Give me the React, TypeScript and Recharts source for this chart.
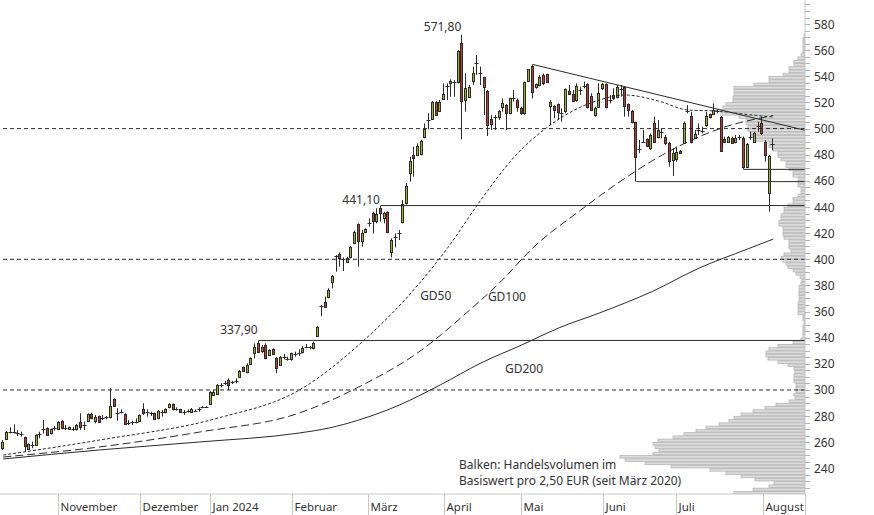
import React from 'react';
import { ComposedChart, BarChart, Bar, Line, XAxis, YAxis, ReferenceLine, ReferenceDot } from 'recharts';

const W = 874;
const H = 515;
const PLOT_R = 805;
const PLOT_B = 494;
const Y_DOMAIN: [number, number] = [220.4, 598.4];
const X_DOMAIN: [number, number] = [-0.89, 216.56];
const FONT = "'Noto Sans', sans-serif";
const GREEN = '#9bb426';
const RED = '#c23a2c';
const INK = '#2a2a2a';

// ---- daily candles ----
const openP = [
  255.4, 262.3, 267.6, 268.4, 267.0, 266.5, 263.8, 255.1, 257.5, 257.9,
  265.9, 269.5, 270.7, 266.8, 270.5, 270.4, 276.3, 270.5, 269.9, 270.2,
  269.9, 275.5, 273.0, 276.3, 281.9, 276.5, 280.1, 278.0, 278.9, 279.1,
  293.1, 282.5, 283.2, 281.6, 274.8, 275.0, 275.6, 276.5, 285.5, 283.2,
  282.3, 282.1, 278.3, 282.7, 283.2, 286.7, 289.3, 285.3, 285.2, 283.2,
  284.0, 282.9, 284.0, 285.0, 287.0, 287.2, 289.0, 296.2, 296.9, 303.6,
  305.4, 307.7, 305.8, 306.9, 310.2, 317.3, 314.0, 319.6, 328.1, 336.2,
  330.1, 334.4, 326.8, 331.1, 324.2, 319.1, 324.8, 323.3, 323.5, 327.1,
  327.9, 329.3, 333.0, 332.4, 331.9, 341.6, 364.0, 367.1, 371.4, 382.9,
  402.2, 403.8, 399.8, 398.2, 401.5, 412.2, 427.0, 414.0, 420.9, 427.3,
  435.7, 429.5, 439.5, 431.3, 436.4, 405.8, 417.1, 419.6, 428.2, 442.8,
  465.8, 479.8, 479.8, 480.3, 493.3, 506.4, 507.1, 520.6, 513.7, 522.6,
  532.4, 534.6, 535.2, 535.9, 565.2, 521.9, 524.4, 536.6, 549.7, 542.0,
  539.2, 528.7, 507.1, 508.4, 508.6, 516.2, 518.0, 512.2, 522.9, 521.9,
  515.7, 512.2, 536.4, 547.9, 531.5, 533.3, 541.0, 541.5, 517.3, 517.3,
  518.8, 511.5, 513.4, 528.7, 526.4, 521.9, 529.3, 532.4, 534.1, 524.9,
  510.4, 516.8, 530.8, 533.8, 521.6, 525.7, 524.4, 530.1, 531.5, 518.8,
  513.7, 505.3, 484.2, 490.0, 491.8, 484.9, 504.0, 493.8, 497.4, 493.8,
  488.7, 476.0, 476.5, 483.1, 489.2, 513.2, 509.6, 493.1, 498.7, 497.8,
  502.7, 510.9, 510.9, 513.5, 509.1, 492.0, 490.0, 492.5, 489.5, 493.6,
  493.0, 470.9, 493.6, 490.0, 501.8, 504.0, 490.0, 450.5, 488.0,
];
const highP = [
  261.7, 268.6, 271.4, 273.7, 269.4, 268.1, 264.3, 259.2, 260.5, 266.1,
  268.1, 277.0, 271.4, 270.5, 272.5, 276.3, 276.8, 273.2, 272.0, 272.0,
  274.0, 282.1, 275.8, 282.1, 282.7, 280.9, 280.4, 280.9, 280.1, 301.3,
  293.6, 286.0, 285.2, 282.1, 277.0, 276.5, 278.3, 281.4, 289.8, 285.2,
  283.4, 282.7, 284.7, 284.7, 286.0, 289.8, 289.8, 286.7, 285.7, 284.7,
  285.2, 286.2, 285.2, 286.7, 287.8, 287.8, 299.2, 300.0, 304.6, 305.1,
  306.9, 308.9, 307.0, 308.9, 315.3, 317.8, 320.4, 325.0, 335.7, 337.9,
  334.4, 335.7, 331.2, 331.7, 325.0, 326.0, 327.5, 325.5, 328.6, 329.3,
  331.1, 333.7, 335.2, 333.7, 337.0, 349.0, 365.0, 371.4, 377.8, 388.0,
  403.3, 405.1, 401.5, 402.0, 410.2, 421.9, 427.5, 422.4, 423.7, 431.3,
  436.4, 439.0, 441.1, 436.4, 436.8, 416.0, 419.8, 422.4, 445.3, 458.4,
  478.5, 486.2, 488.7, 491.5, 504.0, 511.7, 521.1, 521.1, 521.9, 534.6,
  534.6, 537.7, 537.1, 560.1, 571.8, 542.3, 533.3, 547.4, 556.3, 547.4,
  539.7, 529.5, 510.4, 510.4, 514.2, 523.1, 518.8, 523.5, 529.5, 523.1,
  516.8, 535.9, 545.6, 549.1, 534.5, 541.0, 542.2, 542.0, 521.9, 518.0,
  519.3, 515.5, 530.8, 533.3, 529.5, 534.6, 532.0, 535.9, 534.6, 527.0,
  516.8, 534.6, 535.1, 534.6, 525.7, 530.8, 533.3, 533.3, 532.6, 519.3,
  514.2, 505.3, 491.3, 498.9, 492.5, 496.3, 509.1, 506.6, 500.2, 495.1,
  490.0, 484.9, 486.2, 483.6, 505.3, 518.0, 512.9, 498.9, 504.0, 501.4,
  512.9, 511.5, 519.3, 514.7, 509.6, 493.8, 494.3, 493.8, 495.1, 495.1,
  494.0, 489.0, 497.6, 497.6, 505.3, 509.1, 491.2, 479.8, 492.5,
];
const lowP = [
  254.1, 261.7, 266.8, 266.8, 264.8, 264.3, 252.8, 254.1, 255.4, 257.2,
  263.0, 266.8, 264.8, 266.0, 268.9, 269.4, 270.0, 269.4, 269.4, 268.6,
  269.0, 269.4, 269.4, 275.8, 277.6, 274.5, 275.3, 277.0, 277.6, 278.3,
  287.8, 276.5, 282.0, 273.2, 273.2, 273.2, 274.5, 276.0, 280.9, 279.6,
  280.1, 277.0, 277.6, 279.6, 282.1, 286.0, 284.2, 284.2, 282.4, 280.9,
  282.7, 282.4, 283.2, 283.4, 286.0, 286.5, 288.5, 295.5, 296.2, 302.0,
  303.8, 300.0, 304.5, 305.1, 309.7, 314.0, 312.8, 319.1, 324.2, 328.6,
  328.1, 323.5, 326.0, 326.8, 312.8, 318.4, 323.5, 322.4, 322.4, 325.5,
  326.0, 328.1, 331.9, 331.1, 331.1, 340.8, 356.4, 363.5, 370.1, 377.8,
  390.5, 394.4, 391.0, 397.4, 400.7, 411.7, 394.4, 409.7, 419.8, 424.9,
  419.8, 427.5, 428.8, 427.5, 419.8, 401.5, 409.1, 414.7, 427.5, 441.8,
  459.4, 463.2, 479.0, 479.5, 492.5, 499.4, 506.6, 509.6, 512.9, 522.4,
  521.9, 524.4, 524.4, 534.6, 491.8, 512.9, 523.9, 533.3, 541.0, 533.3,
  510.4, 494.3, 498.9, 498.9, 506.6, 512.9, 498.9, 511.0, 520.6, 512.9,
  510.4, 510.4, 535.9, 523.1, 530.5, 532.5, 533.3, 535.0, 502.7, 507.8,
  506.6, 505.3, 511.7, 525.7, 520.6, 520.6, 525.7, 530.8, 515.5, 514.2,
  509.1, 516.2, 529.5, 515.5, 519.3, 521.9, 523.1, 524.4, 509.1, 509.1,
  504.0, 459.4, 481.1, 489.6, 486.2, 483.6, 489.2, 492.5, 492.5, 487.4,
  470.9, 463.7, 474.7, 480.5, 488.7, 511.7, 488.7, 492.5, 495.1, 496.3,
  501.4, 507.8, 510.4, 511.7, 482.3, 489.2, 489.2, 488.7, 488.7, 491.2,
  468.8, 470.4, 491.2, 489.2, 497.6, 495.1, 474.7, 436.4, 483.4,
];
const closeP = [
  260.5, 267.9, 268.2, 268.0, 266.6, 266.1, 257.2, 258.7, 258.2, 265.6,
  266.3, 270.1, 265.6, 269.9, 270.9, 275.5, 270.7, 271.0, 271.4, 270.6,
  273.2, 271.4, 273.4, 281.4, 278.3, 279.6, 275.8, 278.5, 279.3, 287.8,
  288.0, 283.0, 283.6, 273.7, 275.2, 275.3, 276.0, 280.9, 282.7, 283.6,
  281.9, 277.6, 283.9, 283.1, 285.2, 289.0, 285.2, 285.7, 282.9, 283.6,
  284.4, 285.7, 284.4, 285.4, 287.4, 287.4, 298.7, 298.7, 303.8, 304.0,
  305.8, 303.8, 306.2, 307.3, 314.5, 314.5, 319.1, 324.2, 332.6, 329.3,
  332.6, 324.2, 330.6, 327.3, 316.6, 325.5, 325.2, 323.7, 328.1, 327.5,
  328.3, 331.9, 333.4, 332.8, 336.2, 348.4, 364.4, 363.8, 376.5, 387.2,
  402.7, 400.7, 400.2, 401.0, 409.1, 421.1, 414.2, 420.4, 422.9, 427.7,
  429.5, 434.4, 435.1, 435.1, 421.1, 414.7, 417.5, 420.0, 442.0, 456.0,
  475.4, 477.2, 486.9, 490.5, 499.4, 507.1, 520.6, 510.4, 520.6, 526.4,
  532.8, 536.6, 535.6, 559.3, 521.3, 531.3, 531.5, 542.2, 550.1, 542.4,
  531.5, 502.7, 503.2, 508.8, 513.4, 519.3, 512.2, 523.1, 523.3, 516.8,
  512.2, 535.9, 545.3, 528.2, 533.8, 539.7, 534.6, 535.4, 520.6, 514.2,
  512.7, 511.9, 530.0, 526.4, 521.1, 532.8, 529.7, 532.8, 516.2, 514.2,
  516.0, 527.5, 533.8, 516.2, 522.0, 523.1, 532.1, 530.5, 517.3, 514.2,
  505.3, 478.5, 484.6, 490.2, 486.7, 494.8, 490.0, 498.9, 497.8, 489.2,
  475.4, 481.6, 482.3, 481.1, 504.5, 513.6, 490.0, 495.6, 499.1, 498.2,
  509.6, 508.6, 514.2, 513.9, 483.1, 490.0, 493.8, 489.2, 493.0, 494.0,
  470.9, 488.2, 494.0, 496.9, 502.2, 496.4, 479.8, 479.0, 488.4,
];

const gd50Idx = [0, 26, 58, 80, 96, 112, 120, 129, 138, 147, 156, 161, 168, 177, 185, 193, 200, 208];
const gd50Val = [250.2, 261.7, 278.5, 300.0, 334.4, 380.3, 408.6, 445.3, 478.2, 501.2, 516.5, 521.9, 525.7, 521.1, 514.2, 513.4, 511.1, 508.8];
const gd100Idx = [0, 26, 53, 80, 96, 113, 126, 134, 143, 156, 166, 178, 194, 208];
const gd100Val = [248.7, 256.4, 267.8, 282.4, 302.3, 330.6, 361.2, 381.8, 408.6, 437.7, 458.3, 479.8, 500.4, 510.0];
const gd200Idx = [0, 26, 53, 80, 88, 96, 107, 118, 129, 140, 150, 161, 175, 188, 201, 208];
const gd200Val = [247.2, 254.1, 260.2, 267.1, 270.9, 277.0, 288.5, 303.8, 320.6, 334.4, 347.4, 358.9, 375.0, 393.3, 407.8, 415.5];

// ---- horizontal marks ----
const dashedLevels = [300, 400, 500];
const supportIdx = [69, 102, 171, 200];
const supportVal = [337.9, 441.1, 459.4, 468.8];
const trendFrom = { x: 143, y: 549.1 };
const trendTo = { x: 216.56, y: 498.7 };
const peakIdx = [124, 102, 69];
const peakVal = [571.8, 441.1, 337.9];
const peakDy = [-4, -2, -6];
const gdLabels = ['GD50', 'GD100', 'GD200'];
const gdLabelX = [112.6, 130.9, 135.5];
const gdLabelY = [369.2, 367.7, 312.7];

// ---- axes ----
const monthLabels = ['November', 'Dezember', 'Jan 2024', 'Februar', 'März', 'April', 'Mai', 'Juni', 'Juli', 'August'];
const monthPos = [14.85, 37.0, 55.9, 77.9, 98.5, 119.0, 139.8, 161.9, 181.7, 205.1];
const yTicks: number[] = [];
for (let v = 225; v <= 595; v += 5) yTicks.push(v);

// ---- volume profile: bar length per 2,50 EUR bin, from 221,25 upward ----
const profileStart = 221.25;
const profileStep = 2.5;
const profileVol = [
  71, 52, 36, 31, 50, 64, 79, 95, 134, 160,
  180, 185, 152, 146, 150, 152, 147, 132, 121, 109,
  99, 86, 76, 71, 64, 52, 40, 29, 16, 10,
  11, 9, 9, 9, 11, 11, 11, 10, 11, 17,
  27, 37, 39, 39, 36, 27, 12, 4, 2, 2,
  2, 2, 1, 2, 2, 7, 7, 7, 7, 6,
  6, 6, 6, 6, 4, 3, 5, 9, 12, 17,
  19, 22, 24, 21, 14, 16, 16, 16, 21, 22,
  22, 22, 26, 26, 24, 24, 21, 21, 17, 12,
  12, 7, 4, 4, 7, 7, 7, 12, 12, 16,
  19, 19, 24, 27, 27, 32, 36, 36, 51, 54,
  54, 57, 57, 59, 59, 66, 84, 84, 82, 79,
  72, 72, 71, 71, 71, 51, 36, 36, 22, 16,
  16, 11, 11, 7, 4, 2, 2, 2, 2, 2,
  1,
];

const rows: any[] = openP.map((o, i) => ({
  i,
  o,
  h: highP[i],
  l: lowP[i],
  c: closeP[i],
  range: [lowP[i], highP[i]],
  gd50: null,
  gd100: null,
  gd200: null,
}));
gd50Idx.forEach((k, j) => { rows[k].gd50 = gd50Val[j]; });
gd100Idx.forEach((k, j) => { rows[k].gd100 = gd100Val[j]; });
gd200Idx.forEach((k, j) => { rows[k].gd200 = gd200Val[j]; });

const profileRows = profileVol.map((v, j) => ({ p: profileStart + j * profileStep, v }));

const fmt = (v: number) => v.toFixed(2).replace('.', ',');

const Candle = (p: any) => {
  const { x, y, width, height, payload } = p;
  if (!payload || x == null || y == null) return null;
  const { o, h, l, c } = payload;
  const top = Math.min(y, y + height);
  const bot = Math.max(y, y + height);
  const k = h > l ? (bot - top) / (h - l) : 0;
  const yO = top + (h - o) * k;
  const yC = top + (h - c) * k;
  const cx = Math.floor(x + width / 2) + 0.5;
  const bt = Math.min(yO, yC);
  const bb = Math.max(yO, yC);
  const up = c >= o;
  return (
    <g>
      <line x1={cx} x2={cx} y1={top} y2={bot} stroke={INK} strokeWidth={1} />
      {bb - bt < 1.6 ? (
        <line x1={cx - 2} x2={cx + 2} y1={Math.round((bt + bb) / 2) + 0.5} y2={Math.round((bt + bb) / 2) + 0.5} stroke={INK} strokeWidth={1} />
      ) : (
        <rect
          x={cx - 1}
          y={Math.round(bt) + 0.5}
          width={2}
          height={Math.max(1, Math.round(bb) - Math.round(bt))}
          fill={up ? GREEN : RED}
          stroke={INK}
          strokeWidth={1}
        />
      )}
    </g>
  );
};

const ProfileBar = (p: any) => {
  if (p.x == null || p.y == null) return null;
  const x0 = Math.min(p.x, p.x + p.width);
  const w = Math.abs(p.width);
  const yc = p.y + p.height / 2;
  return <rect x={x0} y={yc - 1.3} width={w} height={2.6} fill="#dcdcdc" stroke="#b5b5b5" strokeWidth={0.8} />;
};

const XTick = (p: any) => {
  const { x, payload } = p;
  const k = monthPos.indexOf(payload.value);
  const xx = Math.round(x) + 0.5;
  return (
    <g>
      <line x1={xx} x2={xx} y1={PLOT_B} y2={H} stroke="#c8c8c8" strokeWidth={1} />
      {k >= 0 && (
        <text x={xx + 2} y={511} fontSize={11.5} fill="#333" fontFamily={FONT}>
          {monthLabels[k]}
        </text>
      )}
    </g>
  );
};

const YTick = (p: any) => {
  const { y, payload } = p;
  const v = payload.value;
  const major = v % 20 === 0 && v >= 240 && v <= 580;
  const yy = Math.round(y) + 0.5;
  return (
    <g>
      <line x1={PLOT_R} x2={PLOT_R + 5} y1={yy} y2={yy} stroke="#b4b4b4" strokeWidth={1} />
      {major && (
        <text x={PLOT_R + 9} y={y + 4.5} fontSize={12} fill="#333" fontFamily={FONT}>
          {v}
        </text>
      )}
    </g>
  );
};

export default function App() {
  return (
    <div style={{ position: 'absolute', left: 0, top: 0, width: W, height: H, background: '#fff', overflow: 'hidden' }}>
      <div style={{ position: 'absolute', left: 0, top: 0 }}>
        <BarChart
          layout="vertical"
          width={W}
          height={H}
          data={profileRows}
          margin={{ top: 0, right: W - PLOT_R, bottom: H - PLOT_B, left: 0 }}
        >
          <XAxis type="number" domain={[0, PLOT_R]} reversed hide allowDataOverflow />
          <YAxis type="number" dataKey="p" domain={Y_DOMAIN} reversed hide allowDataOverflow />
          <Bar dataKey="v" barSize={3} isAnimationActive={false} shape={<ProfileBar />} />
        </BarChart>
      </div>
      <div style={{ position: 'absolute', left: 0, top: 0 }}>
        <ComposedChart width={W} height={H} data={rows} margin={{ top: 0, right: 0, bottom: 0, left: 0 }}>
          <XAxis
            type="number"
            dataKey="i"
            domain={X_DOMAIN}
            allowDataOverflow
            ticks={[...monthPos, X_DOMAIN[1]]}
            interval={0}
            tick={<XTick />}
            tickLine={false}
            axisLine={{ stroke: '#c8c8c8' }}
            height={H - PLOT_B}
          />
          <YAxis
            type="number"
            orientation="right"
            domain={Y_DOMAIN}
            allowDataOverflow
            ticks={yTicks}
            interval={0}
            tick={<YTick />}
            tickLine={false}
            axisLine={{ stroke: '#c8c8c8' }}
            width={W - PLOT_R}
          />
          {dashedLevels.map((v) => (
            <ReferenceLine key={'d' + v} y={v} stroke={INK} strokeDasharray="4 3" strokeWidth={1} />
          ))}
          {supportIdx.map((k, j) => (
            <ReferenceLine
              key={'s' + j}
              segment={[{ x: k, y: supportVal[j] }, { x: X_DOMAIN[1], y: supportVal[j] }]}
              stroke={INK}
              strokeWidth={1}
            />
          ))}
          <ReferenceLine segment={[trendFrom, trendTo]} stroke={INK} strokeWidth={1} />
          <Line dataKey="gd200" type="monotone" connectNulls dot={false} activeDot={false} stroke={INK} strokeWidth={1} isAnimationActive={false} />
          <Line dataKey="gd100" type="monotone" connectNulls dot={false} activeDot={false} stroke={INK} strokeWidth={1} strokeDasharray="8 4" isAnimationActive={false} />
          <Line dataKey="gd50" type="monotone" connectNulls dot={false} activeDot={false} stroke={INK} strokeWidth={1} strokeDasharray="3 2" isAnimationActive={false} />
          <Bar dataKey="range" barSize={3} isAnimationActive={false} shape={<Candle />} />
          {peakIdx.map((k, j) => (
            <ReferenceDot
              key={'pk' + j}
              x={k}
              y={peakVal[j]}
              r={0}
              shape={(sp: any) => (
                <text x={sp.cx - 1} y={sp.cy + peakDy[j]} textAnchor="end" fontSize={12} fill="#333" fontFamily={FONT}>
                  {fmt(peakVal[j])}
                </text>
              )}
            />
          ))}
          {gdLabels.map((t, j) => (
            <ReferenceDot
              key={'gl' + j}
              x={gdLabelX[j]}
              y={gdLabelY[j]}
              r={0}
              shape={(sp: any) => (
                <text x={sp.cx} y={sp.cy} fontSize={12} fill="#333" fontFamily={FONT}>
                  {t}
                </text>
              )}
            />
          ))}
        </ComposedChart>
      </div>
      <div
        style={{
          position: 'absolute',
          left: 459,
          top: 457,
          fontFamily: FONT,
          fontSize: 12,
          lineHeight: '15.5px',
          color: '#333',
          whiteSpace: 'nowrap',
        }}
      >
        Balken: Handelsvolumen im
        <br />
        Basiswert pro 2,50 EUR (seit März 2020)
      </div>
    </div>
  );
}
